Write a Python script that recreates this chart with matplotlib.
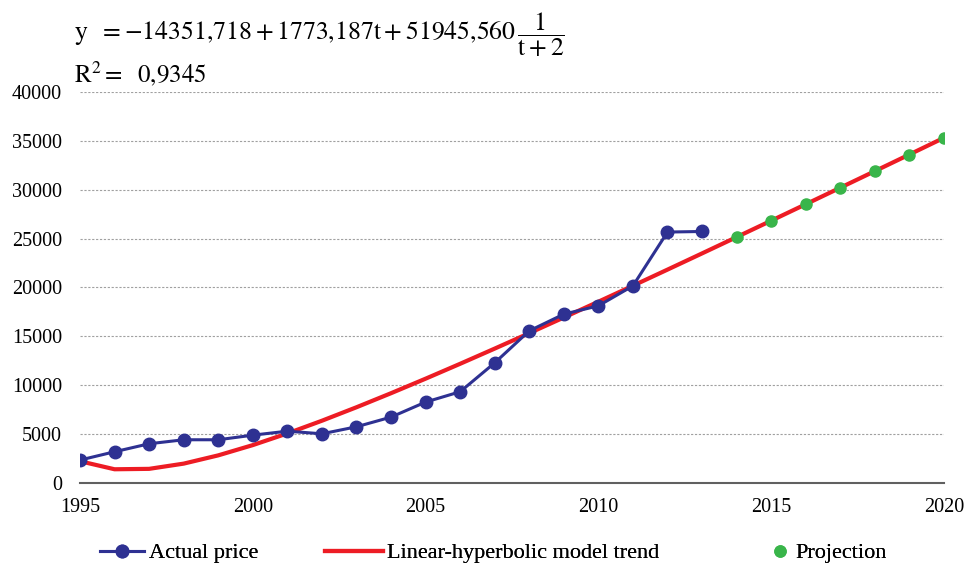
import matplotlib.pyplot as plt
from matplotlib.lines import Line2D

plt.rcParams['font.family'] = ['Liberation Serif', 'DejaVu Serif']
plt.rcParams['mathtext.fontset'] = 'stix'

years_actual = list(range(1995, 2014))
actual_price = [2300, 3150, 3970, 4380, 4380, 4850, 5260, 4990, 5710, 6700,
                8240, 9300, 12260, 15540, 17250, 18100, 20150, 25660, 25720]

years_trend = list(range(1995, 2021))
trend = [2181, 1357, 1399, 1935, 2781, 3832, 5028, 6329, 7709, 9149,
         10637, 12163, 13720, 15302, 16905, 18526, 20163, 21812, 23473,
         25144, 26823, 28509, 30203, 31902, 33606, 35316]

years_proj = list(range(2014, 2021))
projection = [25144, 26823, 28509, 30203, 31902, 33606, 35316]

blue = '#2E3192'
red = '#ED1C24'
green = '#39B54A'

fig = plt.figure(figsize=(9.65, 5.65), dpi=100)
ax = fig.add_axes([0.0829, 0.146, 0.8953, 0.691])

ax.plot(years_trend, trend, color=red, linewidth=3, zorder=2)
ax.plot(years_actual, actual_price, color=blue, linewidth=2.2, marker='o',
        markersize=9, zorder=3)
ax.plot(years_proj, projection, linestyle='none', marker='o', color=green,
        markersize=8, zorder=4)

ax.set_xlim(1995, 2020)
ax.set_ylim(0, 40000)
ax.set_xticks([1995, 2000, 2005, 2010, 2015, 2020])
ax.set_yticks(range(0, 40001, 5000))
ax.tick_params(axis='both', length=0, labelsize=14.5)
ax.tick_params(axis='x', pad=11)
ax.tick_params(axis='y', pad=13)
ax.grid(axis='y', color='#A0A0A0', linestyle=(0, (2, 1.5)), linewidth=0.8)
ax.set_axisbelow(True)
for s in ['top', 'right', 'left']:
    ax.spines[s].set_visible(False)
ax.spines['bottom'].set_color('#606060')
ax.spines['bottom'].set_linewidth(1.5)

fig.text(0.077, 0.938,
         r'$\mathrm{y\ \ = -14351{,}718 + 1773{,}187t + 51945{,}560\,\dfrac{1}{t + 2}}$',
         fontsize=18.5, va='center')
fig.text(0.077, 0.870, r'$\mathrm{R^2 = \ \ 0{,}9345}$', fontsize=18, va='center')

# legend: three single entries spread along the bottom
entries = [
    (Line2D([], [], color=blue, linewidth=2.2, marker='o', markersize=9),
     'Actual price', 100, 2.0),
    (Line2D([], [], color=red, linewidth=3),
     'Linear-hyperbolic model trend', 325, 2.6),
    (Line2D([], [], color=green, linestyle='none', marker='o', markersize=8),
     'Projection', 769, 1.0),
]
for h, lab, xpix, hl in entries:
    leg = fig.legend([h], [lab], loc='center left', frameon=False,
                     fontsize=16, bbox_to_anchor=(xpix / 965, 0.021),
                     handlelength=hl, handletextpad=0.2,
                     borderpad=0, borderaxespad=0)
    fig.add_artist(leg)

fig.savefig('out.png', dpi=100)
